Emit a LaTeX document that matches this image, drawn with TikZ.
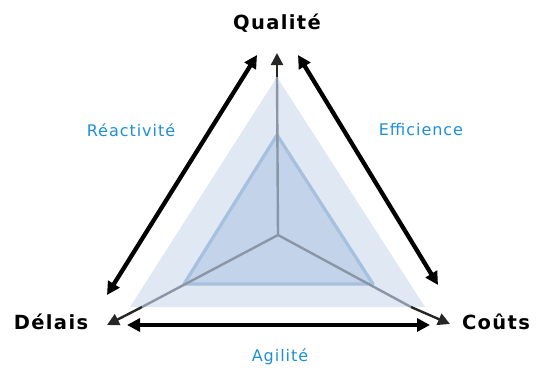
\documentclass[tikz,border=0pt]{standalone}
\usepackage{fontspec}
\setmainfont{DejaVu Sans}
\newfontfamily\bluefont{DejaVu Sans}[LetterSpace=6]
\newfontfamily\headfont{DejaVu Sans Bold}[LetterSpace=7]
\usetikzlibrary{arrows.meta}
\definecolor{outerfill}{HTML}{E0E8F3}
\definecolor{innerfill}{HTML}{C3D3E9}
\definecolor{innerline}{HTML}{A6C0DF}
\definecolor{axisgray}{HTML}{8A96A6}
\definecolor{labelblue}{HTML}{1E8FD5}
\tikzset{
  headlbl/.style={font=\headfont\fontsize{19.5}{21}\selectfont, text=black, inner sep=0pt},
  bluelbl/.style={font=\bluefont\fontsize{16}{18}\selectfont, text=labelblue, inner sep=0pt},
  axisin/.style={draw=axisgray, line width=2.4pt},
  axisout/.style={draw=black!85, line width=2.4pt, -{Triangle[length=12pt,width=12pt]}},
  bigarrow/.style={draw=black, line width=4.3pt, {Triangle[length=13pt,width=13pt]}-{Triangle[length=13pt,width=13pt]}}
}
\begin{document}
\begin{tikzpicture}[x=1pt,y=-1pt]
\useasboundingbox (0,0) rectangle (537,370);
\coordinate (hub) at (278,235);
\coordinate (oQ) at (277,77);
\coordinate (oL) at (130,307);
\coordinate (oR) at (425,307);
\coordinate (iQ) at (277,135);
\coordinate (iL) at (184,284);
\coordinate (iR) at (373,284);
\coordinate (xQ) at (277,77);
\coordinate (xL) at (142,307);
\coordinate (xR) at (411,307);
\coordinate (tQ) at (277,53);
\coordinate (tD) at (107,325);
\coordinate (tC) at (450,324);
% triangles
\fill[outerfill] (oQ) -- (oL) -- (oR) -- cycle;
\filldraw[fill=innerfill, draw=innerline, line width=3.2pt, line join=round] (iQ) -- (iL) -- (iR) -- cycle;
% axes
\draw[axisin] (hub) -- (xQ);
\draw[axisin] (hub) -- (xL);
\draw[axisin] (hub) -- (xR);
\draw[axisout] (xQ) -- (tQ);
\draw[axisout] (xL) -- (tD);
\draw[axisout] (xR) -- (tC);
% big arrows
\coordinate (aL1) at (107,295);
\coordinate (aL2) at (257,55);
\coordinate (aR1) at (298,55);
\coordinate (aR2) at (438,285);
\coordinate (aB1) at (127,325);
\coordinate (aB2) at (430,325);
\draw[bigarrow] (aL1) -- (aL2);
\draw[bigarrow] (aR1) -- (aR2);
\draw[bigarrow] (aB1) -- (aB2);
% labels
\node[headlbl] (qual) at (277,23) {Qualité};
\node[headlbl] (delais) at (51,322) {Délais};
\node[headlbl] (couts) at (496,322) {Coûts};
\node[bluelbl] (reac) at (131,130) {Réactivité};
\node[bluelbl] (effi) at (421,130) {Efficience};
\node[bluelbl] (agil) at (280,357) {Agilité};
\end{tikzpicture}
\end{document}
